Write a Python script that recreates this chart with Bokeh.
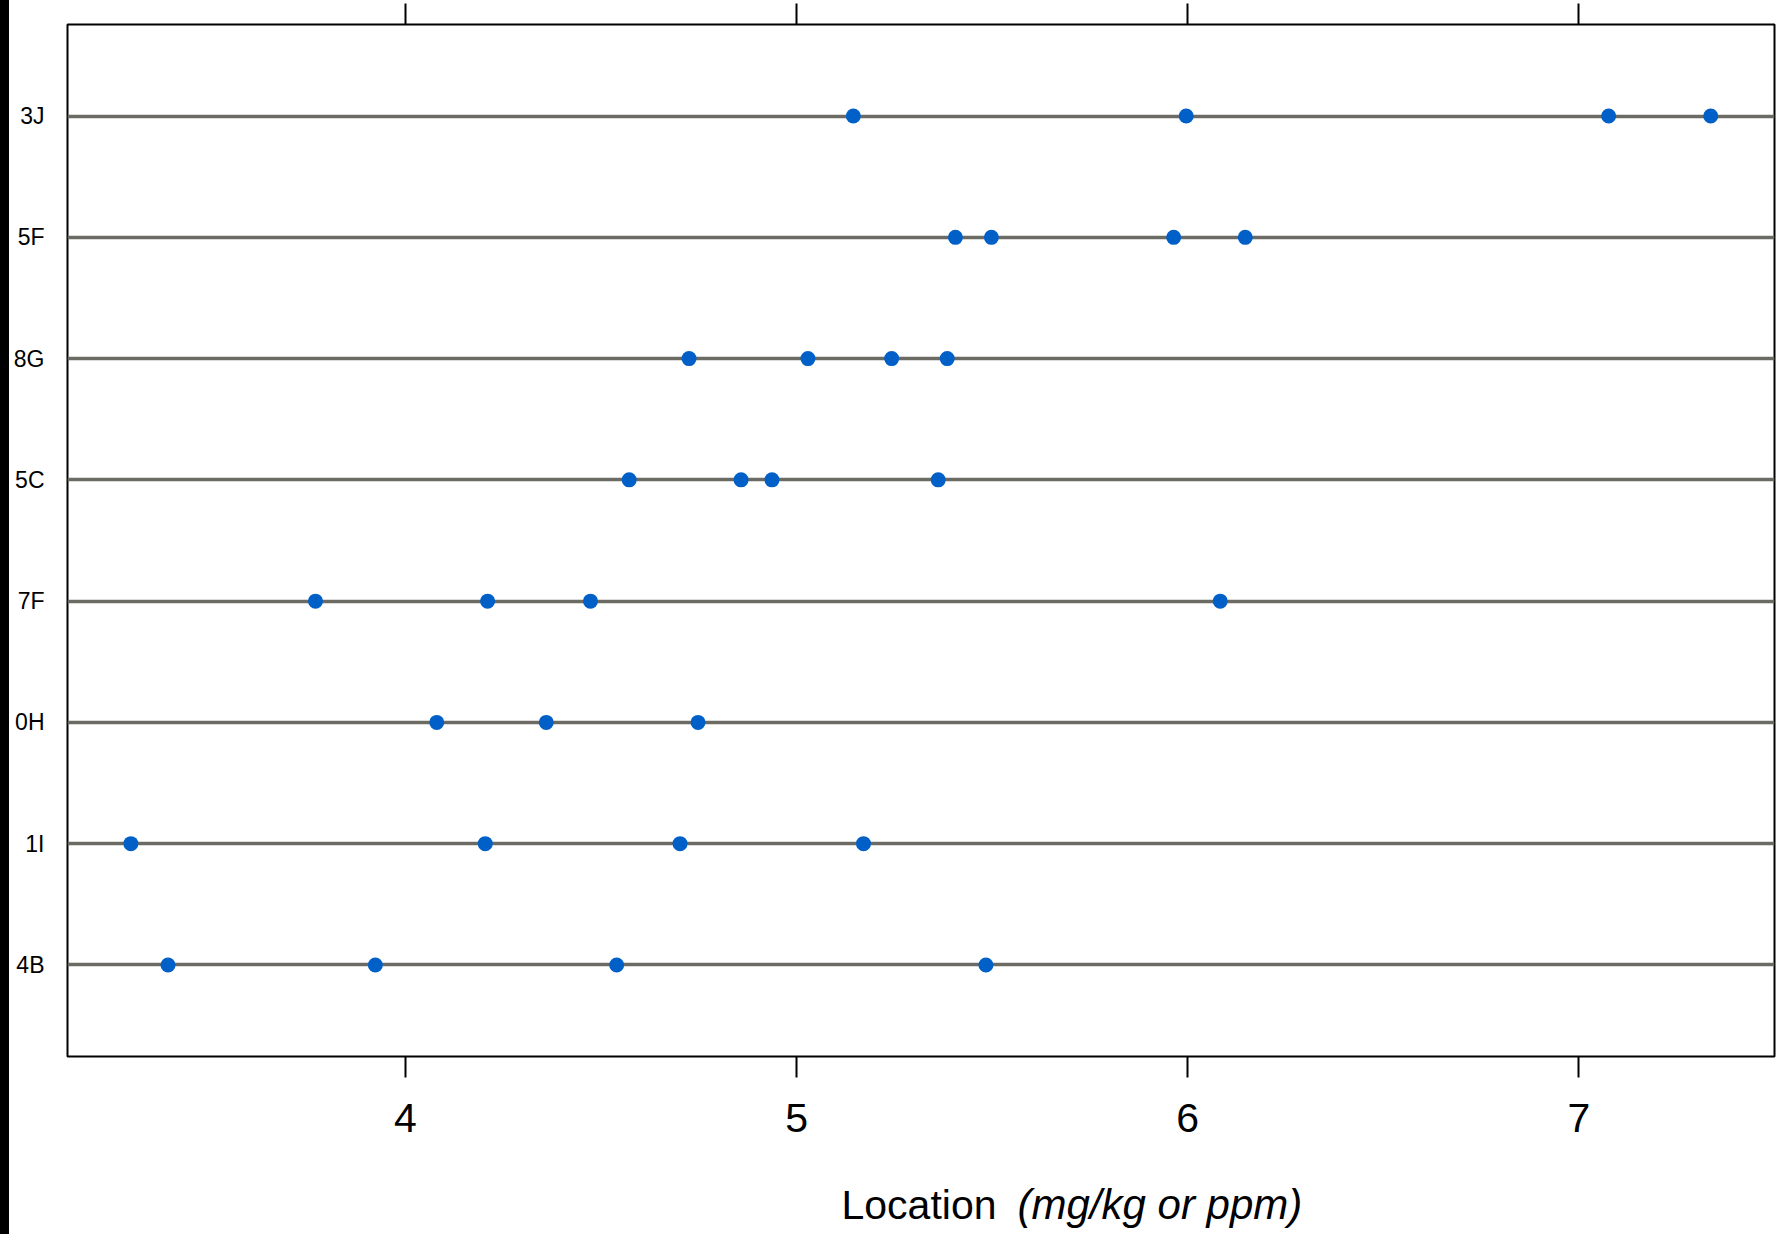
from bokeh.plotting import figure
from bokeh.models import FactorRange, Range1d, LinearAxis, FixedTicker, Div
from bokeh.layouts import row, column
from bokeh.core.properties import value
from bokeh.embed import file_html
from bokeh.resources import INLINE

# categories bottom -> top
categories = ["4B", "1I", "0H", "7F", "5C", "8G", "5F", "3J"]

v_4B = [3.393, 3.923, 4.540, 5.484]
v_1I = [3.298, 4.204, 4.702, 5.171]
v_0H = [4.080, 4.360, 4.748]
v_7F = [3.770, 4.210, 4.473, 6.083]
v_5C = [4.572, 4.858, 4.937, 5.362]
v_8G = [4.725, 5.029, 5.243, 5.385]
v_5F = [5.406, 5.498, 5.964, 6.147]
v_3J = [5.145, 5.996, 7.076, 7.337]

x_ticks = [4, 5, 6, 7]
title_main = "Location"
title_unit = "(mg/kg or ppm)"

series = [v_4B, v_1I, v_0H, v_7F, v_5C, v_8G, v_5F, v_3J]
xs, ys = [], []
for cat, vals in zip(categories, series):
    xs += vals
    ys += [cat] * len(vals)

FONT = "Liberation Sans"
FIG_W = 1767
MAIN_H = 1180
TITLE_H = 54
FRAME_W = FIG_W - 58 - 2

p = figure(
    width=FIG_W, height=MAIN_H,
    x_range=Range1d(3.136, 7.5),
    y_range=FactorRange(factors=categories, range_padding=0.255,
                        range_padding_units="absolute"),
    output_backend="svg", toolbar_location=None,
    min_border_left=58, min_border_right=2,
    min_border_top=24, min_border_bottom=MAIN_H - 1056,
)
p.background_fill_color = "white"
p.border_fill_color = "white"
p.outline_line_color = "black"
p.outline_line_width = 2

# bottom axis
xa = p.xaxis[0]
xa.ticker = FixedTicker(ticks=x_ticks)
xa.major_tick_out = 21
xa.major_tick_in = 0
xa.major_tick_line_width = 2
xa.major_tick_line_color = "black"
xa.minor_tick_line_color = None
xa.axis_line_color = None
xa.major_label_text_font = FONT
xa.major_label_text_font_size = "41px"
xa.major_label_text_color = "black"
xa.major_label_standoff = 26

# top axis (ticks only)
top = LinearAxis(ticker=FixedTicker(ticks=x_ticks), major_tick_out=21,
                 major_tick_in=0, major_tick_line_width=2,
                 major_tick_line_color="black", minor_tick_line_color=None,
                 axis_line_color=None, major_label_text_font_size="0px",
                 major_label_standoff=0)
top.major_label_overrides = {t: "" for t in x_ticks}
p.add_layout(top, "above")

# left axis
ya = p.yaxis[0]
ya.major_tick_out = 0
ya.major_tick_in = 0
ya.minor_tick_line_color = None
ya.axis_line_color = None
ya.major_label_text_font = FONT
ya.major_label_text_font_size = "23px"
ya.major_label_text_color = "black"
ya.major_label_standoff = 23

p.xgrid.grid_line_color = None
p.ygrid.grid_line_color = "#6b6b63"
p.ygrid.grid_line_width = 3.5

p.scatter(xs, ys, size=15, fill_color="#0060c8", line_color=None)

# axis title strip (frame aligned with main frame; 1 unit = 1 px)
t = figure(width=FIG_W, height=TITLE_H, x_range=Range1d(0, FRAME_W),
           y_range=Range1d(0, TITLE_H), x_axis_type=None, y_axis_type=None,
           output_backend="svg", toolbar_location=None, min_border=0,
           min_border_left=58, min_border_right=2)
t.outline_line_color = None
t.xgrid.grid_line_color = None
t.ygrid.grid_line_color = None
t.text(x=[774], y=[30], text=[title_main], text_font=value(FONT),
       text_font_size="41px", text_color="black", text_baseline="alphabetic")
t.text(x=[950], y=[30], text=[title_unit], text_font=value(FONT),
       text_font_size="42px", text_font_style="italic", text_color="black",
       text_baseline="alphabetic")

bar = Div(width=9, height=MAIN_H + TITLE_H, margin=0,
          styles={"background-color": "black"})
layout = row(bar, column(p, t, spacing=0), spacing=0)

open("out.html", "w").write(file_html(layout, INLINE))
